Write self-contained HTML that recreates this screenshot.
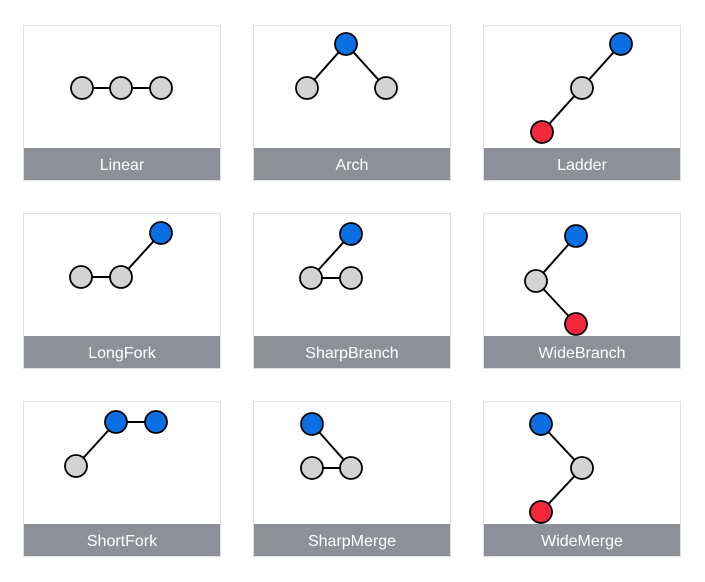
<!DOCTYPE html>
<html><head><style>
html,body{margin:0;padding:0;background:#fff;}
svg{display:block;}
text{font-family:"Liberation Sans",sans-serif;font-size:16px;fill:#fff;text-anchor:middle;}
</style></head><body>
<svg width="705" height="582" viewBox="0 0 705 582" xmlns="http://www.w3.org/2000/svg">
<g fill="#fff" stroke="#e0e0e0" stroke-width="1">
<rect x="23.5" y="25.5" width="197" height="155"/><rect x="253.5" y="25.5" width="197" height="155"/><rect x="483.5" y="25.5" width="197" height="155"/>
<rect x="23.5" y="213.5" width="197" height="155"/><rect x="253.5" y="213.5" width="197" height="155"/><rect x="483.5" y="213.5" width="197" height="155"/>
<rect x="23.5" y="401.5" width="197" height="155"/><rect x="253.5" y="401.5" width="197" height="155"/><rect x="483.5" y="401.5" width="197" height="155"/>
</g>
<g fill="#8e9097">
<rect x="24" y="148" width="196" height="32"/><rect x="254" y="148" width="196" height="32"/><rect x="484" y="148" width="196" height="32"/>
<rect x="24" y="336" width="196" height="32"/><rect x="254" y="336" width="196" height="32"/><rect x="484" y="336" width="196" height="32"/>
<rect x="24" y="524" width="196" height="32"/><rect x="254" y="524" width="196" height="32"/><rect x="484" y="524" width="196" height="32"/>
</g>
<text x="122" y="170">Linear</text><text x="352" y="170">Arch</text><text x="582" y="170">Ladder</text>
<text x="122" y="358">LongFork</text><text x="352" y="358">SharpBranch</text><text x="582" y="358">WideBranch</text>
<text x="122" y="546">ShortFork</text><text x="352" y="546">SharpMerge</text><text x="582" y="546">WideMerge</text>
<g stroke="#000" stroke-width="2">
<line x1="82" y1="88" x2="161" y2="88"/>
<line x1="307" y1="88" x2="346" y2="44"/><line x1="346" y1="44" x2="386" y2="88"/>
<line x1="542" y1="132" x2="621" y2="44"/>
<line x1="81" y1="277" x2="121" y2="277"/><line x1="121" y1="277" x2="161" y2="233"/>
<line x1="311" y1="278" x2="351" y2="278"/><line x1="311" y1="278" x2="351" y2="234"/>
<line x1="576" y1="236" x2="536" y2="281"/><line x1="536" y1="281" x2="576" y2="324"/>
<line x1="76" y1="466" x2="116" y2="422"/><line x1="116" y1="422" x2="156" y2="422"/>
<line x1="312" y1="424" x2="351" y2="468"/><line x1="312" y1="468" x2="351" y2="468"/>
<line x1="541" y1="424" x2="582" y2="468"/><line x1="582" y1="468" x2="541" y2="512"/>
</g>
<g stroke="#000" stroke-width="1.8">
<g fill="#d3d3d3">
<circle cx="82" cy="88" r="11"/><circle cx="121" cy="88" r="11"/><circle cx="161" cy="88" r="11"/>
<circle cx="307" cy="88" r="11"/><circle cx="386" cy="88" r="11"/>
<circle cx="582" cy="88" r="11"/>
<circle cx="81" cy="277" r="11"/><circle cx="121" cy="277" r="11"/>
<circle cx="311" cy="278" r="11"/><circle cx="351" cy="278" r="11"/>
<circle cx="536" cy="281" r="11"/>
<circle cx="76" cy="466" r="11"/>
<circle cx="312" cy="468" r="11"/><circle cx="351" cy="468" r="11"/>
<circle cx="582" cy="468" r="11"/>
</g>
<g fill="#0a6fe3">
<circle cx="346" cy="44" r="11"/><circle cx="621" cy="44" r="11"/>
<circle cx="161" cy="233" r="11"/><circle cx="351" cy="234" r="11"/><circle cx="576" cy="236" r="11"/>
<circle cx="116" cy="422" r="11"/><circle cx="156" cy="422" r="11"/>
<circle cx="312" cy="424" r="11"/><circle cx="541" cy="424" r="11"/>
</g>
<g fill="#f2293d">
<circle cx="542" cy="132" r="11"/><circle cx="576" cy="324" r="11"/><circle cx="541" cy="512" r="11"/>
</g>
</g>
</svg>
</body></html>
